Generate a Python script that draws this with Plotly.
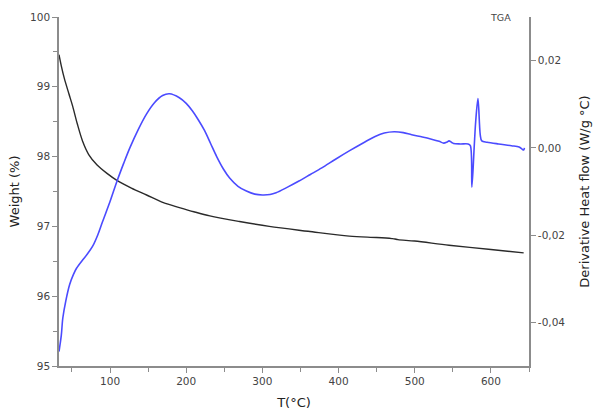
import plotly.graph_objects as go

# Temperature (°C) and weight (%) for TGA curve
t_weight = [33, 36, 40, 46, 51, 57, 64, 72, 83, 96, 109, 128, 148, 170, 191, 210, 231, 270,
            309, 360, 414, 450, 470, 474, 478, 500, 545, 600, 643]
weight = [99.46, 99.30, 99.12, 98.90, 98.72, 98.47, 98.22, 98.03, 97.88, 97.76, 97.66, 97.55,
          97.45, 97.34, 97.27, 97.21, 97.15, 97.07, 97.00, 96.93, 96.86, 96.84, 96.825, 96.82,
          96.81, 96.79, 96.73, 96.67, 96.62]

# Temperature (°C) and derivative heat flow (W/g °C)
t_dhf = [33, 36, 38, 42, 47, 52, 56, 64, 70, 77, 84, 90, 100, 109, 118, 126, 137, 148, 158,
         169, 178, 191, 200, 208, 216, 224, 232, 240, 249, 257, 268, 279, 290, 300, 310, 318, 333,
         348, 363, 378, 396, 414, 434, 448, 460, 473, 485, 496, 510, 522, 532, 538, 542, 545, 548,
         551, 560, 570, 573, 575, 578, 580, 583, 586, 588, 595, 610, 627, 637, 641, 643, 644]
dhf = [-0.0467, -0.0430, -0.0390, -0.0350, -0.0313, -0.0290, -0.0276, -0.0257, -0.0244,
       -0.0226, -0.0199, -0.0170, -0.0123, -0.0077, -0.0035, 0.0000, 0.0042, 0.0078, 0.0103,
       0.0120, 0.0124, 0.0115, 0.0102, 0.0085, 0.0064, 0.0040, 0.0010, -0.0020, -0.0049,
       -0.0069, -0.0088, -0.0099, -0.0106, -0.0108, -0.0107, -0.0103, -0.0090, -0.0076, -0.0061,
       -0.0046, -0.0026, -0.0007, 0.0013, 0.0026, 0.0034, 0.0037, 0.0035, 0.0030, 0.0025, 0.0020,
       0.0015, 0.0011, 0.0013, 0.0016, 0.0013, 0.0010, 0.0009, 0.0009, 0.0005, -0.0090,
       0.0000, 0.0060, 0.0113, 0.0030, 0.0016, 0.0013, 0.0009, 0.0005, 0.0002, -0.0003,
       -0.0005, 0.0000]

x_ticks = [100, 200, 300, 400, 500, 600]
y_ticks = [95, 96, 97, 98, 99, 100]
y2_ticks = [0.02, 0.00, -0.02, -0.04]
y2_labels = ["0,02", "0,00", "-0,02", "-0,04"]

axis_col = "#8c8c8c"
tick_font = dict(family="DejaVu Sans", size=10.5, color="#444444")
title_font = dict(family="DejaVu Sans", size=13, color="#222222")

fig = go.Figure()
fig.add_trace(go.Scatter(x=t_weight, y=weight, mode="lines",
                         line=dict(color="#2a2a2a", width=1.4, shape="spline", smoothing=0.9),
                         showlegend=False))
fig.add_trace(go.Scatter(x=t_dhf, y=dhf, mode="lines", yaxis="y2",
                         line=dict(color="#4b4bff", width=1.6, shape="spline", smoothing=0.9),
                         showlegend=False))

fig.update_layout(
    width=594, height=413,
    margin=dict(l=59, r=65, t=17, b=47),
    plot_bgcolor="white", paper_bgcolor="white",
    xaxis=dict(range=[33, 650], tickvals=x_ticks, showgrid=False, zeroline=False,
               automargin=False,
               showline=True, linecolor=axis_col, linewidth=1.5,
               ticks="outside", ticklen=5, tickcolor=axis_col,
               minor=dict(dtick=50, tick0=0, ticks="outside", ticklen=4, tickcolor=axis_col),
               tickfont=tick_font,
               title=dict(text="T(°C)", font=title_font, standoff=12)),
    yaxis=dict(range=[95, 100], tickvals=y_ticks, showgrid=False, zeroline=False,
               automargin=False,
               showline=True, linecolor=axis_col, linewidth=1.5,
               ticks="outside", ticklen=5, tickcolor=axis_col,
               minor=dict(dtick=0.5, tick0=95, ticks="outside", ticklen=4, tickcolor=axis_col),
               tickfont=tick_font,
               title=dict(text="Weight (%)", font=title_font, standoff=8)),
    yaxis2=dict(range=[-0.05, 0.03], overlaying="y", side="right",
                automargin=False,
                tickvals=y2_ticks, ticktext=y2_labels, showgrid=False, zeroline=False,
                showline=True, linecolor=axis_col, linewidth=1.5,
                ticks="outside", ticklen=5, tickcolor=axis_col,
                tickfont=tick_font,
                title=dict(text="Derivative Heat flow (W/g °C)", font=title_font, standoff=16)),
    annotations=[dict(text="TGA", xref="paper", yref="paper", x=0.94, y=1.0,
                      xanchor="center", yanchor="middle", showarrow=False,
                      font=dict(family="DejaVu Sans", size=9.5, color="#444444"))],
)

fig.write_html("out.html")
